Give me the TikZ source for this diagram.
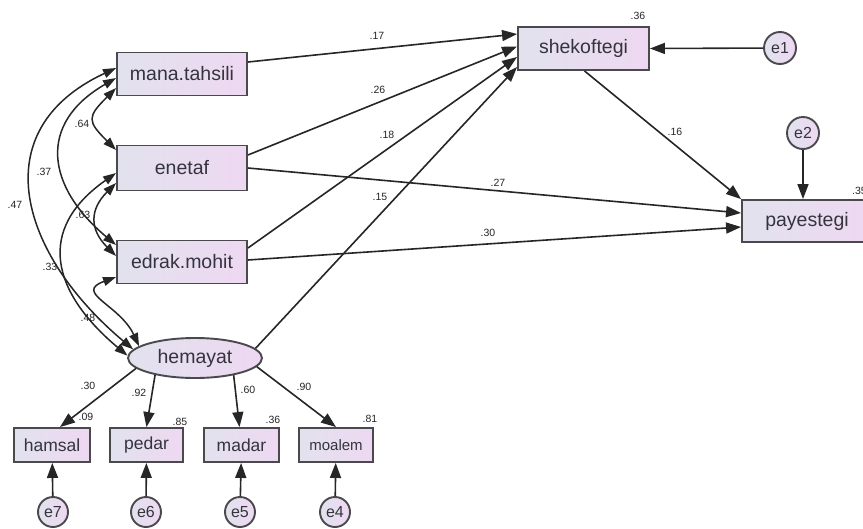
\documentclass[tikz,border=0pt]{standalone}
\usepackage{fontspec}
\setmainfont{Liberation Sans}
\usetikzlibrary{arrows.meta,shapes.geometric,calc}
\definecolor{boxl}{HTML}{E2E2EE}
\definecolor{boxr}{HTML}{EED8F1}
\definecolor{edgec}{HTML}{4A4A4E}
\definecolor{txtc}{HTML}{34343E}
\begin{document}
\begin{tikzpicture}[x=1pt,y=1pt,
  obs/.style={draw=edgec, line width=1.9pt, left color=boxl, right color=boxr, text=txtc,
    inner sep=0pt, minimum height=43pt, minimum width=130pt, font=\fontsize{19.5}{22}\selectfont},
  ind/.style={obs, minimum height=34pt, minimum width=75pt, font=\fontsize{17.5}{20}\selectfont},
  lat/.style={ellipse, draw=edgec, line width=1.9pt, left color=boxl, right color=boxr, text=txtc,
    inner sep=0pt, minimum width=134pt, minimum height=40pt, font=\fontsize{19.5}{22}\selectfont},
  err/.style={circle, draw=edgec, line width=1.9pt, left color=boxl, right color=boxr, text=txtc,
    inner sep=0pt, minimum size=30pt, font=\fontsize{16}{18}\selectfont},
  pth/.style={draw=black!85, line width=1.6pt, -{Triangle[length=15pt,width=11pt]}},
  cov/.style={draw=black!85, line width=1.5pt, {Triangle[length=13pt,width=9pt]}-{Triangle[length=13pt,width=9pt]}},
  lbl/.style={font=\fontsize{10.5}{11}\selectfont, text=black!85, inner sep=0pt}
]
\useasboundingbox (0,-528) rectangle (863,0);
\clip (0,-528) rectangle (863,0);
\fill[white] (0,-528) rectangle (863,0);

% nodes
\node[obs] (mana) at (182,-74) {mana.tahsili};
\node[obs, minimum height=45pt] (enetaf) at (182,-168) {enetaf};
\node[obs] (edrak) at (182,-262) {edrak.mohit};
\node[lat] (hemayat) at (195,-358) {hemayat};
\node[ind, minimum width=76pt] (hamsal) at (52,-445) {hamsal};
\node[ind, minimum width=73pt] (pedar) at (146.5,-445) {pedar};
\node[ind] (madar) at (241.5,-445) {madar};
\node[ind, minimum width=74pt, font=\fontsize{15}{17}\selectfont] (moalem) at (336,-445) {moalem};
\node[err] (e7) at (53,-512) {e7};
\node[err] (e6) at (146,-512) {e6};
\node[err] (e5) at (240,-512) {e5};
\node[err] (e4) at (335,-512) {e4};
\node[obs, minimum width=131pt] (shek) at (583.5,-48.5) {shekoftegi};
\node[obs, minimum height=42pt] (pay) at (807,-221) {payestegi};
\node[err, minimum size=32pt] (e1) at (780,-48) {e1};
\node[err, minimum size=32pt] (e2) at (803,-133) {e2};

% structural paths
\draw[pth] ($(mana.east)+(0,12)$) -- ($(shek.west)+(0,14.5)$);
\draw[pth] ($(enetaf.east)+(0,13)$) -- ($(shek.west)+(0,2)$);
\draw[pth] ($(edrak.east)+(0,14)$) -- ($(shek.west)+(0,-8.5)$);
\draw[pth] (hemayat.9) -- ($(shek.west)+(0,-18.5)$);
\draw[pth] (enetaf.east) -- ($(pay.west)+(0,8)$);
\draw[pth] ($(edrak.east)+(0,2)$) -- ($(pay.west)+(0,-6)$);
\draw[pth] ($(shek.south)+(1,0)$) -- (pay.north west);
\draw[pth] (e1) -- (shek.east);
\draw[pth] (e2.south) -- (e2.south |- pay.north);

% measurement model
\draw[pth] (hemayat.190) -- ($(hamsal.north)+(8,0)$);
\draw[pth] (hemayat.203) -- (pedar.north);
\draw[pth] (hemayat.336) -- ($(madar.north)+(-2,0)$);
\draw[pth] (hemayat.352) -- (moalem.north);
\draw[pth] (e7) -- (hamsal);
\draw[pth] (e6) -- (pedar);
\draw[pth] (e5) -- (madar);
\draw[pth] (e4) -- (moalem);

% covariances
\draw[cov] ($(mana.west)+(0,6)$) to[out=205,in=140,looseness=1.34] (hemayat.172);
\draw[cov] ($(mana.west)+(0,-4)$) to[out=210,in=140,looseness=1.40] ($(edrak.west)+(0,17)$);
\draw[cov] ($(mana.west)+(0,-14)$) to[out=225,in=135,looseness=1.7] ($(enetaf.west)+(0,18)$);
\draw[cov] ($(enetaf.west)+(0,-5)$) to[out=215,in=140,looseness=1.38] (hemayat.178);
\draw[cov] ($(enetaf.west)+(0,-15)$) to[out=225,in=135,looseness=1.32] ($(edrak.west)+(0,6)$);
\draw[cov] (hemayat.168) to[out=115,in=200,looseness=1.6] ($(edrak.west)+(0,-15)$);

% labels
\node[lbl] (l1) at (377,-36) {.17};
\node[lbl] (l2) at (378,-90) {.26};
\node[lbl] (l3) at (387,-135) {.18};
\node[lbl] (l4) at (380,-197) {.15};
\node[lbl] (l5) at (498,-183) {.27};
\node[lbl] (l6) at (488,-233) {.30};
\node[lbl] (l7) at (675,-132) {.16};
\node[lbl] (l8) at (638,-16) {.36};
\node[lbl, anchor=west] (l9) at (852,-191) {.35};
\node[lbl] (c1) at (82,-124) {.64};
\node[lbl] (c2) at (44,-172) {.37};
\node[lbl] (c3) at (15,-205) {.47};
\node[lbl] (c4) at (83,-215) {.63};
\node[lbl] (c5) at (50,-267) {.33};
\node[lbl] (c6) at (88,-318) {.48};
\node[lbl] (m1) at (88,-386) {.30};
\node[lbl] (m2) at (139,-393) {.92};
\node[lbl] (m3) at (248,-390) {.60};
\node[lbl] (m4) at (304,-387) {.90};
\node[lbl] (r1) at (86,-417) {.09};
\node[lbl] (r2) at (180,-422) {.85};
\node[lbl] (r3) at (273,-420) {.36};
\node[lbl] (r4) at (370,-419) {.81};
\end{tikzpicture}
\end{document}
